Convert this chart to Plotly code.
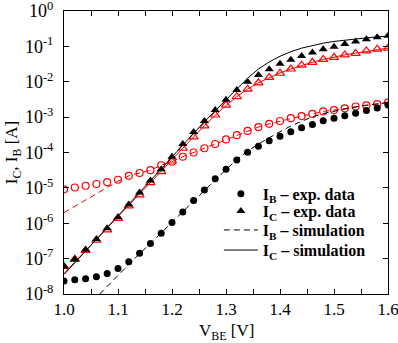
import plotly.graph_objects as go

V = [1.00, 1.02, 1.04, 1.06, 1.08, 1.10, 1.12, 1.14, 1.16, 1.18, 1.20,
     1.22, 1.24, 1.26, 1.28, 1.30, 1.32, 1.34, 1.36, 1.38, 1.40,
     1.42, 1.44, 1.46, 1.48, 1.50, 1.52, 1.54, 1.56, 1.58, 1.60]

# log10 of currents
ib_exp_log = [-7.63, -7.60, -7.57, -7.51, -7.42, -7.28, -7.09, -6.85, -6.57, -6.28, -5.98,
              -5.68, -5.36, -5.06, -4.74, -4.47, -4.21, -3.99, -3.82, -3.67, -3.54,
              -3.41, -3.30, -3.21, -3.10, -3.03, -2.96, -2.89, -2.81, -2.74, -2.66]
ic_exp_log = [-7.22, -7.02, -6.75, -6.45, -6.14, -5.83, -5.47, -5.13, -4.79, -4.47, -4.12,
              -3.76, -3.42, -3.11, -2.80, -2.51, -2.23, -2.00, -1.81, -1.65, -1.49,
              -1.38, -1.27, -1.17, -1.08, -1.01, -0.93, -0.86, -0.80, -0.74, -0.70]
V_ib_sim = [1.066, 1.08, 1.10, 1.12, 1.14, 1.16, 1.18, 1.20,
            1.22, 1.24, 1.26, 1.28, 1.30, 1.32, 1.34, 1.36, 1.38, 1.40,
            1.42, 1.44, 1.46, 1.48, 1.50, 1.52, 1.54, 1.56, 1.58, 1.60]
ib_sim_log = [-8.0, -7.78, -7.47, -7.16, -6.86, -6.57, -6.27, -5.98,
              -5.68, -5.37, -5.07, -4.77, -4.48, -4.20, -3.96, -3.76, -3.58, -3.41,
              -3.25, -3.11, -2.99, -2.90, -2.83, -2.76, -2.71, -2.66, -2.62, -2.59]
ic_sim_log = [-7.45, -7.12, -6.79, -6.46, -6.14, -5.81, -5.48, -5.14, -4.80, -4.47, -4.13,
              -3.79, -3.45, -3.13, -2.82, -2.51, -2.21, -1.90, -1.64, -1.44, -1.28,
              -1.15, -1.05, -0.97, -0.91, -0.86, -0.82, -0.78, -0.76, -0.73, -0.71]

# red series (second data set, not in legend)
ib_red_exp_log = [-5.04, -4.99, -4.94, -4.89, -4.84, -4.77, -4.66, -4.58, -4.50, -4.36, -4.26,
                  -4.12, -4.00, -3.88, -3.76, -3.63, -3.51, -3.39, -3.28, -3.19, -3.11,
                  -3.03, -2.97, -2.91, -2.84, -2.80, -2.75, -2.70, -2.67, -2.63, -2.59]
ib_red_sim_log = [-5.70, -5.52, -5.35, -5.17, -4.99, -4.81, -4.66, -4.58, -4.50, -4.36, -4.26,
                  -4.12, -4.00, -3.88, -3.76, -3.63, -3.51, -3.39, -3.28, -3.19, -3.11,
                  -3.03, -2.97, -2.91, -2.84, -2.80, -2.75, -2.70, -2.67, -2.63, -2.59]
ic_red_exp_log = [-7.22, -7.02, -6.77, -6.48, -6.19, -5.86, -5.51, -5.20, -4.85, -4.54, -4.24,
                  -3.88, -3.56, -3.25, -2.94, -2.66, -2.42, -2.21, -2.03, -1.88, -1.76,
                  -1.64, -1.53, -1.45, -1.37, -1.31, -1.24, -1.20, -1.13, -1.08, -1.05]
ic_red_sim_log = [-7.42, -7.10, -6.78, -6.47, -6.16, -5.84, -5.52, -5.19, -4.86, -4.53, -4.20,
                  -3.87, -3.55, -3.24, -2.95, -2.67, -2.42, -2.21, -2.03, -1.88, -1.75,
                  -1.64, -1.54, -1.45, -1.37, -1.30, -1.24, -1.19, -1.14, -1.09, -1.05]

y_tickvals = [1e-8, 1e-7, 1e-6, 1e-5, 1e-4, 1e-3, 1e-2, 1e-1, 1e0]
y_ticktext = ["10<sup>-8</sup>", "10<sup>-7</sup>", "10<sup>-6</sup>", "10<sup>-5</sup>",
              "10<sup>-4</sup>", "10<sup>-3</sup>", "10<sup>-2</sup>", "10<sup>-1</sup>",
              "10<sup>0</sup>"]
x_tickvals = [1.0, 1.1, 1.2, 1.3, 1.4, 1.5, 1.6]
x_ticktext = ["1.0", "1.1", "1.2", "1.3", "1.4", "1.5", "1.6"]
legend_names = ["I<sub>B</sub> – exp. data", "I<sub>C</sub> – exp. data",
                "I<sub>B</sub> – simulation", "I<sub>C</sub> – simulation"]
x_title = "V<sub>BE</sub> [V]"
y_title = "I<sub>C</sub>, I<sub>B</sub> [A]"

def lin(vals):
    return [10 ** v for v in vals]

RED = "#ff0000"
FONT = "Liberation Serif"

fig = go.Figure()
# red series
fig.add_trace(go.Scatter(x=V, y=lin(ib_red_sim_log), mode="lines",
                         line=dict(color=RED, width=1, dash="6px,4px"), showlegend=False))
fig.add_trace(go.Scatter(x=V, y=lin(ib_red_exp_log), mode="markers",
                         marker=dict(symbol="circle-open", size=7, color=RED, line=dict(width=1.2)),
                         showlegend=False))
fig.add_trace(go.Scatter(x=V, y=lin(ic_red_sim_log), mode="lines",
                         line=dict(color=RED, width=1), showlegend=False))
fig.add_trace(go.Scatter(x=V, y=lin(ic_red_exp_log), mode="markers",
                         marker=dict(symbol="triangle-up-open", size=8, color=RED, line=dict(width=1.2)),
                         showlegend=False))
# black series
fig.add_trace(go.Scatter(x=V, y=lin(ib_exp_log), mode="markers",
                         name=legend_names[0], legend="legend",
                         marker=dict(symbol="circle", size=7, color="black")))
fig.add_trace(go.Scatter(x=V, y=lin(ic_exp_log), mode="markers",
                         name=legend_names[1], legend="legend2",
                         marker=dict(symbol="triangle-up", size=8, color="black")))
fig.add_trace(go.Scatter(x=V_ib_sim, y=lin(ib_sim_log), mode="lines",
                         name=legend_names[2], legend="legend3",
                         line=dict(color="black", width=1, dash="6px,4px")))
fig.add_trace(go.Scatter(x=V, y=lin(ic_sim_log), mode="lines",
                         name=legend_names[3], legend="legend4",
                         line=dict(color="black", width=1)))

def leg(y):
    return dict(x=0.478, y=y, xanchor="left", yanchor="middle",
                bgcolor="rgba(0,0,0,0)", borderwidth=0,
                font=dict(family=FONT, size=16, weight="bold"), itemwidth=34)

fig.update_layout(
    width=398, height=343,
    margin=dict(l=64, r=10, t=11, b=49, autoexpand=False),
    paper_bgcolor="white", plot_bgcolor="white",
    font=dict(family=FONT, size=17, color="black"),
    legend=leg(0.354), legend2=leg(0.293), legend3=leg(0.226), legend4=leg(0.155),
    xaxis=dict(range=[1.0, 1.6], tickvals=x_tickvals, ticktext=x_ticktext, automargin=False,
               tickfont=dict(family=FONT, size=17), ticklabelstandoff=0, ticklabeloverflow="allow",
               ticks="inside", ticklen=5, tickcolor="black", showline=True, linecolor="black",
               linewidth=1, mirror="ticks", showgrid=False, zeroline=False,
               minor=dict(dtick=0.05, tick0=1.0, ticks="inside", ticklen=5, tickcolor="black", showgrid=False)),
    yaxis=dict(type="log", range=[-8, 0], tickvals=y_tickvals, ticktext=y_ticktext, automargin=False,
               tickfont=dict(family=FONT, size=18), ticklabeloverflow="allow", ticklabelstandoff=6,
               ticks="inside", ticklen=5, tickcolor="black", showline=True, linecolor="black",
               linewidth=1, mirror="ticks", showgrid=False, zeroline=False,
               title=dict(text=y_title, font=dict(family=FONT, size=17), standoff=2)),
    annotations=[dict(text=x_title, xref="paper", yref="paper", x=0.5, y=-0.133,
                      xanchor="center", yanchor="middle", showarrow=False,
                      font=dict(family=FONT, size=17))],
)

fig.write_html("out.html")
